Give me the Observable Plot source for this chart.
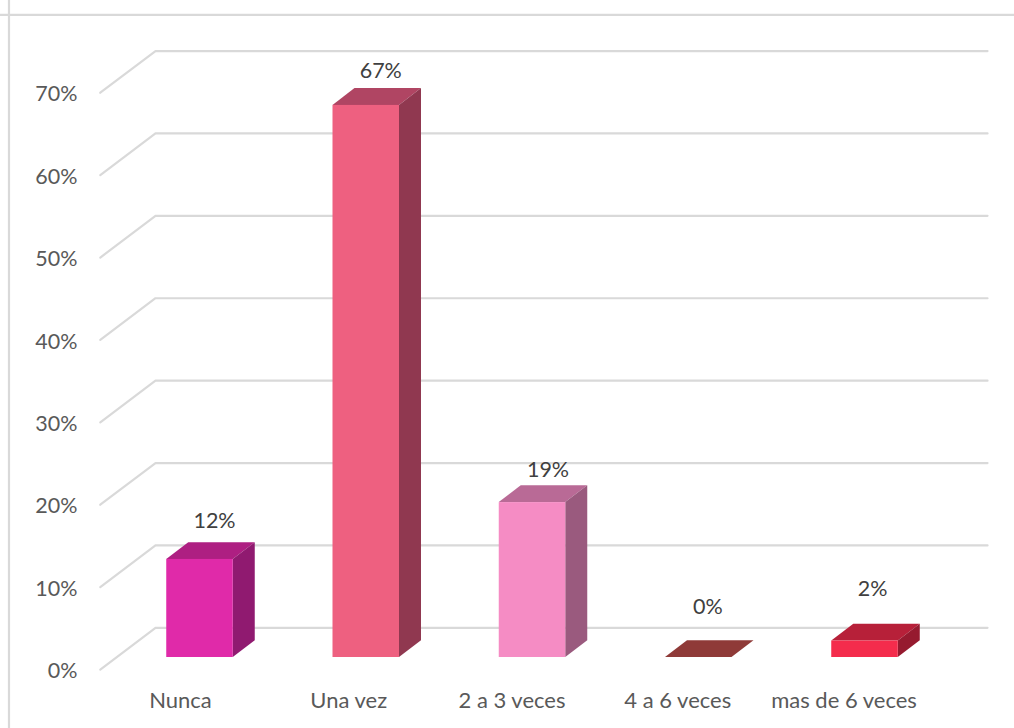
<!DOCTYPE html>
<html><head><meta charset="utf-8">
<script src="https://cdn.jsdelivr.net/npm/d3@7"></script>
<script src="https://cdn.jsdelivr.net/npm/@observablehq/plot@0.6"></script>
<style>html,body{margin:0;padding:0;background:#fff;overflow:hidden}svg{display:block}</style>
</head><body><div id="chart"></div>
<script>
const categories = ["Nunca","Una vez","2 a 3 veces","4 a 6 veces","mas de 6 veces"];
const values = [11.9,67,18.8,0,2];
const yTicks = [0,10,20,30,40,50,60,70];
const frontColors = ["#e02aa9","#ee6080","#f58cc4","#c0504d","#f42c4c"];
const topColors = ["#ae1f82","#b04563","#b96a96","#8f3a38","#b72039"];
const sideColors = ["#901a70","#903850","#9a5a7e","#8f3a38","#961a2f"];
// Label nudges in pixels, per bar
const labelDx = [14.5,14.5,15.5,9,7.5];
const labelDy = [-38,-34,-32,-50,-51.5];
const catDx = [-19.5,-17.5,-20.5,-21,-21];

const pxX = 166.25, pxY = 8.24, originX = 199.5, originY = 657;
const halfBar = 0.2, depthX = 22/pxX, depthY = 16.8/pxY;
const floorFrontX = -0.5997, floorFrontY = -1.46, wallBackX = -0.2677, wallBackY = 3.6, rightX = 4.737;

const grid = yTicks.flatMap(t => [
  {t, x: floorFrontX, y: t + floorFrontY},
  {t, x: wallBackX, y: t + wallBackY},
  {t, x: rightX, y: t + wallBackY}
]);
const bars = values.map((v,i)=>({i,v,cat:categories[i]}));
const tops = bars.flatMap(b=>[
  {i:b.i,y:b.v,x1:b.i-halfBar,x2:b.i+halfBar},
  {i:b.i,y:b.v+depthY,x1:b.i-halfBar+depthX,x2:b.i+halfBar+depthX}
]);
const sides = bars.filter(b=>b.v>0).flatMap(b=>[
  {i:b.i,x:b.i+halfBar,y1:0,y2:b.v},
  {i:b.i,x:b.i+halfBar+depthX,y1:depthY,y2:b.v+depthY}
]);

const W=1014,H=728;
const plot = Plot.plot({
  width:W,height:H,margin:0,
  style:{background:"#fff",fontFamily:"Lato, sans-serif",overflow:"visible"},
  x:{type:"linear",domain:[-originX/pxX,(W-originX)/pxX],range:[0,W],axis:null},
  y:{type:"linear",domain:[originY/pxY,(originY-H)/pxY],range:[0,H],axis:null},
  marks:[
    Plot.line(grid,{x:"x",y:"y",z:"t",stroke:"#d9d9d9",strokeWidth:2.2,curve:"linear"}),
    Plot.areaX(tops,{y:"y",x1:"x1",x2:"x2",z:"i",fill:d=>topColors[d.i]}),
    Plot.areaY(sides,{x:"x",y1:"y1",y2:"y2",z:"i",fill:d=>sideColors[d.i]}),
    Plot.rectY(bars.filter(b=>b.v>0),{x1:d=>d.i-halfBar,x2:d=>d.i+halfBar,y1:0,y2:"v",fill:d=>frontColors[d.i]}),
    Plot.text(bars,{x:d=>d.i+labelDx[d.i]/pxX,y:d=>d.v-labelDy[d.i]/pxY,text:d=>Math.round(d.v)+"%",fill:"#404040",fontSize:21.5}),
    Plot.text(bars,{x:d=>d.i+catDx[d.i]/pxX,y:0,text:"cat",fill:"#595959",fontSize:22,dy:43}),
    Plot.text(yTicks,{x:()=>-0.737,y:d=>d+floorFrontY,text:d=>d+"%",fill:"#595959",fontSize:21.5,textAnchor:"end",dy:1.8}),
    Plot.ruleX([(8.5-originX)/pxX],{stroke:"#d9d9d9",strokeWidth:2.2}),
    Plot.ruleY([(originY-14.3)/pxY],{stroke:"#d9d9d9",strokeWidth:2.2})
  ]
});
document.getElementById("chart").appendChild(plot);
</script></body></html>
